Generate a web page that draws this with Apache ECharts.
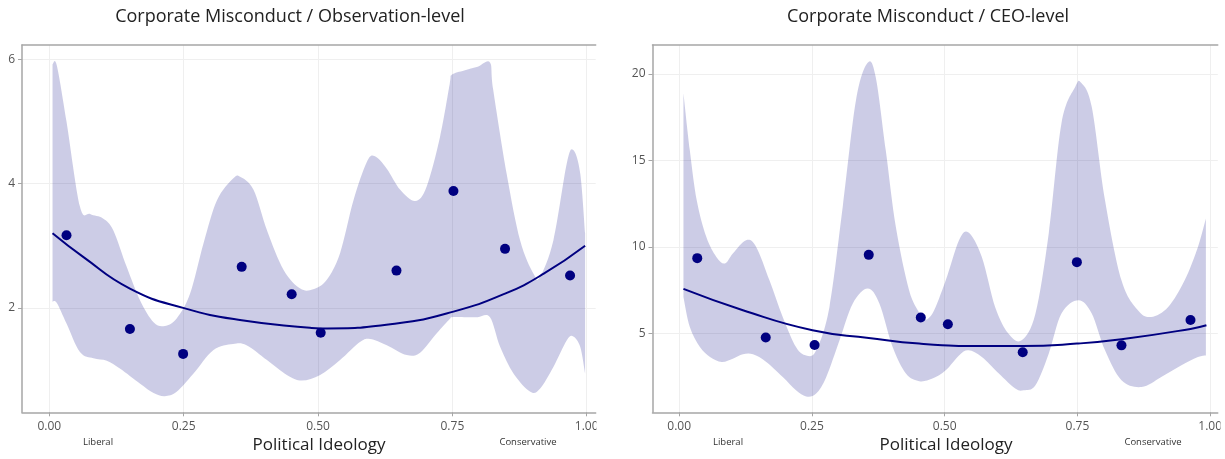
<!DOCTYPE html>
<html><head><meta charset="utf-8">
<script src="https://cdn.jsdelivr.net/npm/echarts@6/dist/echarts.min.js"></script>
<style>html,body{margin:0;padding:0;background:#fff}#c{width:1225px;height:459px}</style>
</head><body><div id="c"></div>
<script>
// ---------- data ----------
const panelTitles = ['Corporate Misconduct / Observation-level', 'Corporate Misconduct / CEO-level'];
const xAxisTitle = 'Political Ideology';
const sideLabels = ['Liberal', 'Conservative'];
const xTicks = [0, 0.25, 0.5, 0.75, 1];
const obsYTicks = [2, 4, 6];
const ceoYTicks = [5, 10, 15, 20];

// Observation-level
const obsPointX = [0.032, 0.150, 0.249, 0.358, 0.451, 0.505, 0.646, 0.752, 0.848, 0.969];
const obsPointY = [3.17, 1.66, 1.26, 2.66, 2.22, 1.60, 2.60, 3.88, 2.95, 2.52];
const obsFitX = [0.006, 0.063, 0.150, 0.249, 0.358, 0.485, 0.505, 0.646, 0.752, 0.848, 0.920, 0.997];
const obsFitY = [3.20, 2.82, 2.31, 2.00, 1.80, 1.68, 1.67, 1.75, 1.94, 2.23, 2.55, 3.00];
const obsUpper = [
  [0.006, 5.92], [0.014, 5.90], [0.032, 5.00], [0.057, 3.63], [0.076, 3.51], [0.100, 3.44], [0.119, 3.25],
  [0.144, 2.66], [0.169, 2.12], [0.194, 1.77], [0.215, 1.71], [0.237, 1.83], [0.262, 2.23], [0.287, 3.04],
  [0.312, 3.73], [0.342, 4.08], [0.355, 4.11], [0.380, 3.90], [0.405, 3.25], [0.436, 2.61], [0.467, 2.31],
  [0.491, 2.30], [0.516, 2.45], [0.541, 2.88], [0.566, 3.73], [0.591, 4.35], [0.606, 4.44], [0.628, 4.24],
  [0.653, 3.90], [0.681, 3.72], [0.702, 3.95], [0.727, 4.75], [0.745, 5.60], [0.749, 5.75], [0.772, 5.82],
  [0.797, 5.88], [0.820, 5.95], [0.826, 5.51],
  [0.851, 4.16], [0.876, 3.09], [0.901, 2.55], [0.913, 2.50], [0.938, 3.09], [0.963, 4.33], [0.975, 4.54],
  [0.988, 4.16], [0.997, 3.20]
];
const obsLower = [
  [0.006, 2.10], [0.014, 2.08], [0.032, 1.75], [0.057, 1.29], [0.082, 1.19], [0.107, 1.15], [0.132, 1.02],
  [0.169, 0.78], [0.194, 0.63], [0.215, 0.58], [0.237, 0.65], [0.268, 0.94], [0.305, 1.32], [0.342, 1.42],
  [0.367, 1.40], [0.405, 1.16], [0.442, 0.92], [0.470, 0.83], [0.504, 0.92], [0.541, 1.16], [0.578, 1.45],
  [0.597, 1.50], [0.628, 1.40], [0.665, 1.24], [0.690, 1.28], [0.721, 1.59], [0.745, 1.82], [0.749, 1.85],
  [0.772, 1.85], [0.797, 1.85], [0.820, 1.85],
  [0.839, 1.37], [0.864, 0.94], [0.895, 0.65], [0.913, 0.70], [0.938, 1.05], [0.963, 1.48], [0.975, 1.54],
  [0.988, 1.37], [0.997, 0.94]
];

// CEO-level
const ceoPointX = [0.034, 0.163, 0.255, 0.357, 0.455, 0.506, 0.647, 0.749, 0.833, 0.963];
const ceoPointY = [9.36, 4.77, 4.34, 9.55, 5.93, 5.54, 3.92, 9.13, 4.32, 5.79];
const ceoFitX = [0.008, 0.120, 0.251, 0.357, 0.452, 0.577, 0.647, 0.749, 0.833, 0.963, 0.993];
const ceoFitY = [7.58, 6.35, 5.19, 4.75, 4.42, 4.28, 4.28, 4.42, 4.67, 5.27, 5.48];
const ceoUpper = [
  [0.008, 18.89], [0.020, 15.60], [0.033, 12.71], [0.051, 10.59], [0.070, 9.43], [0.086, 9.05], [0.101, 9.63],
  [0.126, 10.40], [0.145, 10.01], [0.170, 8.08], [0.195, 5.96], [0.220, 4.22], [0.239, 3.74], [0.258, 4.03],
  [0.283, 6.54], [0.308, 12.33], [0.333, 18.50], [0.355, 20.66], [0.370, 19.85], [0.389, 15.61], [0.408, 11.17],
  [0.433, 7.50], [0.452, 6.20], [0.458, 5.77], [0.477, 6.16], [0.502, 8.08], [0.527, 10.40], [0.545, 10.84],
  [0.570, 9.43], [0.595, 6.54], [0.620, 5.00], [0.645, 4.61], [0.671, 6.16], [0.696, 10.79], [0.720, 17.15],
  [0.746, 19.27], [0.757, 19.50], [0.777, 18.11], [0.802, 12.71], [0.833, 8.08], [0.864, 6.35], [0.889, 5.96],
  [0.921, 6.54], [0.952, 8.08], [0.977, 10.01], [0.992, 11.65]
];
const ceoLower = [
  [0.008, 7.12], [0.020, 5.38], [0.039, 4.22], [0.058, 3.65], [0.080, 3.36], [0.101, 3.55], [0.120, 3.80],
  [0.139, 3.80], [0.164, 3.36], [0.195, 2.49], [0.220, 1.72], [0.239, 1.37], [0.258, 1.53], [0.277, 2.49],
  [0.302, 4.61], [0.327, 6.74], [0.355, 7.60], [0.377, 6.74], [0.402, 4.22], [0.427, 2.69], [0.452, 2.25],
  [0.477, 2.40], [0.502, 2.88], [0.527, 3.74], [0.545, 4.03], [0.570, 3.65], [0.602, 2.69], [0.633, 1.82],
  [0.649, 1.72], [0.671, 2.01], [0.696, 3.84], [0.720, 6.16], [0.752, 6.93], [0.777, 6.16], [0.802, 4.03],
  [0.833, 2.30], [0.871, 1.91], [0.908, 2.49], [0.946, 3.17], [0.977, 3.65], [0.992, 3.74]
];

// ---------- chart ----------
const FONT = 'Open Sans';
const NAVY = '#000080';
const AXIS_COLOR = '#a6a6a6';
const zip = (a, b) => a.map((v, i) => [v, b[i]]);

function xAxes(gi, min, max) {
  return [{
    type: 'value', gridIndex: gi, min: min, max: max,
    axisLine: { show: true, onZero: false, lineStyle: { color: AXIS_COLOR, width: 1.5 } },
    axisTick: { show: true, length: 4, customValues: xTicks, lineStyle: { color: AXIS_COLOR } },
    axisLabel: { customValues: xTicks, formatter: v => v.toFixed(2), color: '#555', fontFamily: FONT, fontSize: 12, margin: 8 },
    splitLine: { show: true, lineStyle: { color: '#efefef', width: 1 } }
  }, {
    type: 'value', gridIndex: gi, min: min, max: max, position: 'top',
    axisLine: { show: true, onZero: false, lineStyle: { color: AXIS_COLOR, width: 1.5 } },
    axisTick: { show: false }, axisLabel: { show: false }, splitLine: { show: false }
  }];
}
function yAxis(gi, min, max, ticks) {
  return {
    type: 'value', gridIndex: gi, min: min, max: max,
    axisLine: { show: true, onZero: false, lineStyle: { color: AXIS_COLOR, width: 1.5 } },
    axisTick: { show: true, length: 4, customValues: ticks, lineStyle: { color: AXIS_COLOR } },
    axisLabel: { customValues: ticks, formatter: v => String(v), color: '#555', fontFamily: FONT, fontSize: 12, margin: 7 },
    splitLine: { show: true, lineStyle: { color: '#efefef', width: 1 } }
  };
}
// Catmull-Rom spline through pixel points -> SVG path segments (curve part only)
function splinePath(p) {
  let d = '';
  for (let i = 0; i < p.length - 1; i++) {
    const p0 = p[i - 1] || p[i], p1 = p[i], p2 = p[i + 1], p3 = p[i + 2] || p[i + 1];
    const c1 = [p1[0] + (p2[0] - p0[0]) / 6, p1[1] + (p2[1] - p0[1]) / 6];
    const c2 = [p2[0] - (p3[0] - p1[0]) / 6, p2[1] - (p3[1] - p1[1]) / 6];
    d += ' C' + c1[0] + ',' + c1[1] + ' ' + c2[0] + ',' + c2[1] + ' ' + p2[0] + ',' + p2[1];
  }
  return d;
}
function band(upper, lower, xi, yi) {
  const all = upper.concat(lower);
  return {
    type: 'custom', xAxisIndex: xi, yAxisIndex: yi, silent: true, z: 1,
    data: all, encode: { x: 0, y: 1 },
    renderItem: (params, api) => {
      if (params.dataIndex !== 0) return null;
      const up = upper.map(p => api.coord(p));
      const lo = lower.slice().reverse().map(p => api.coord(p));
      const d = 'M' + up[0][0] + ',' + up[0][1] + splinePath(up) +
        ' L' + lo[0][0] + ',' + lo[0][1] + splinePath(lo) + ' Z';
      return { type: 'path', shape: { pathData: d }, style: { fill: 'rgba(0,0,128,0.2)' } };
    }
  };
}
function fit(xs, ys, xi, yi) {
  return { type: 'line', xAxisIndex: xi, yAxisIndex: yi, data: zip(xs, ys), smooth: 0.5, showSymbol: false, silent: true, z: 3,
    lineStyle: { color: NAVY, width: 2 } };
}
function pts(xs, ys, xi, yi) {
  return { type: 'scatter', xAxisIndex: xi, yAxisIndex: yi, data: zip(xs, ys), symbolSize: 10, z: 4,
    itemStyle: { color: NAVY, opacity: 1 } };
}
function txt(x, y, s, size, color) {
  return { type: 'text', x: x, y: y, z: 100, style: { text: s, fontFamily: FONT, fontSize: size, fill: color, align: 'center', verticalAlign: 'middle' } };
}

const chart = echarts.init(document.getElementById('c'), null, { renderer: 'canvas' });
chart.setOption({
  animation: false,
  backgroundColor: '#fff',
  grid: [
    { left: 22, right: 629.3, top: 45, bottom: 46.7 },
    { left: 652.5, right: 5, top: 45, bottom: 46.7 }
  ],
  xAxis: [...xAxes(0, -0.0508, 1.0167), ...xAxes(1, -0.0503, 1.0144)],
  yAxis: [yAxis(0, 0.32, 6.23, obsYTicks), yAxis(1, 0.45, 21.68, ceoYTicks)],
  series: [
    band(obsUpper, obsLower, 0, 0),
    fit(obsFitX, obsFitY, 0, 0),
    pts(obsPointX, obsPointY, 0, 0),
    band(ceoUpper, ceoLower, 2, 1),
    fit(ceoFitX, ceoFitY, 2, 1),
    pts(ceoPointX, ceoPointY, 2, 1)
  ],
  graphic: [
    { type: 'rect', z: 99, shape: { x: 596.5, y: 414, width: 17, height: 24 }, style: { fill: '#fff' } },
    { type: 'rect', z: 99, shape: { x: 1220.5, y: 414, width: 10, height: 24 }, style: { fill: '#fff' } },
    txt(290, 17, panelTitles[0], 18, '#222'),
    txt(928, 17, panelTitles[1], 18, '#222'),
    txt(319, 445, xAxisTitle, 17, '#222'),
    txt(946, 445, xAxisTitle, 17, '#222'),
    txt(98, 442, sideLabels[0], 9.5, '#333'),
    txt(528, 442, sideLabels[1], 9.5, '#333'),
    txt(728, 442, sideLabels[0], 9.5, '#333'),
    txt(1153, 442, sideLabels[1], 9.5, '#333')
  ]
});
</script></body></html>
